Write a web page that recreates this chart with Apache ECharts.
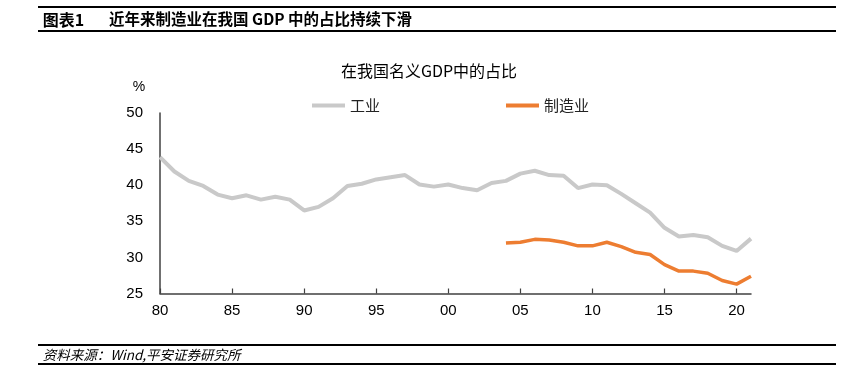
<!DOCTYPE html>
<html>
<head>
<meta charset="utf-8">
<script src="https://cdn.jsdelivr.net/npm/echarts@6/dist/echarts.min.js"></script>
<style>
html,body{margin:0;padding:0;background:#fff;}
#chart{width:851px;height:391px;}
</style>
</head>
<body>
<div id="chart"></div>
<script>
// Years 1980-2021
var years = [];
for (var y = 1980; y <= 2021; y++) years.push(String(y));

// 工业 share of nominal GDP (%)
var industry = [43.9, 41.9, 40.6, 39.9, 38.7, 38.2, 38.6, 38.0, 38.4, 38.0,
                36.5, 37.0, 38.2, 39.9, 40.2, 40.8, 41.1, 41.4, 40.1, 39.8,
                40.1, 39.6, 39.3, 40.3, 40.6, 41.6, 42.0, 41.4, 41.3, 39.6,
                40.1, 40.0, 38.8, 37.5, 36.2, 34.1, 32.9, 33.1, 32.8, 31.6,
                30.9, 32.6];

// 制造业 share of nominal GDP (%), available from 2004
var manufacturing = [null, null, null, null, null, null, null, null, null, null,
                     null, null, null, null, null, null, null, null, null, null,
                     null, null, null, null, 32.0, 32.1, 32.5, 32.4, 32.1, 31.6,
                     31.6, 32.1, 31.5, 30.7, 30.4, 29.0, 28.1, 28.1, 27.8, 26.8,
                     26.3, 27.4];

var yTicks = {min: 25, max: 50, interval: 5};

var FONT = '"Liberation Sans", "Noto Sans CJK SC", sans-serif';
var CJK = '"Noto Sans CJK SC", "Liberation Sans", sans-serif';

var chart = echarts.init(document.getElementById('chart'), null, {renderer: 'canvas'});
chart.setOption({
  animation: false,
  backgroundColor: '#fff',
  grid: {left: 160, right: 100, top: 113, bottom: 97.5, containLabel: false},
  legend: [
    {data: ['工业'], left: 307, top: 93, icon: 'rect', itemWidth: 33, itemHeight: 4,
     textStyle: {fontFamily: CJK, fontSize: 15, color: '#222'}},
    {data: ['制造业'], left: 501, top: 93, icon: 'rect', itemWidth: 33, itemHeight: 4,
     textStyle: {fontFamily: CJK, fontSize: 15, color: '#222'}}
  ],
  xAxis: {
    type: 'category',
    data: years,
    boundaryGap: false,
    axisLine: {lineStyle: {color: '#404040', width: 1.5}},
    axisTick: {inside: true, length: 5, interval: 4, lineStyle: {color: '#404040', width: 1.2}},
    axisLabel: {interval: 4, margin: 10, fontFamily: FONT, fontSize: 15, color: '#000',
      formatter: function (v) { return v.slice(2); }},
    splitLine: {show: false}
  },
  yAxis: {
    type: 'value',
    min: yTicks.min, max: yTicks.max, interval: yTicks.interval,
    axisLine: {show: true, lineStyle: {color: '#404040', width: 1.5}},
    axisTick: {show: false},
    axisLabel: {margin: 17, fontFamily: FONT, fontSize: 15, color: '#000'},
    splitLine: {show: false}
  },
  series: [
    {name: '工业', type: 'line', data: industry, symbol: 'none', smooth: false,
     lineStyle: {color: '#C9C9C9', width: 4}, itemStyle: {color: '#C9C9C9'}},
    {name: '制造业', type: 'line', data: manufacturing, symbol: 'none', smooth: false,
     lineStyle: {color: '#ED7D31', width: 3.5}, itemStyle: {color: '#ED7D31'}}
  ],
  graphic: [
    {type: 'line', shape: {x1: 38, y1: 7, x2: 836, y2: 7}, style: {stroke: '#000', lineWidth: 2}},
    {type: 'line', shape: {x1: 38, y1: 31, x2: 836, y2: 31}, style: {stroke: '#000', lineWidth: 2}},
    {type: 'text', x: 42.7, y: 19.5, style: {text: '图表1', fontFamily: CJK, fontWeight: 'bold', fontSize: 16, fill: '#000', textVerticalAlign: 'middle'}},
    {type: 'text', x: 109, y: 19.5, style: {text: '近年来制造业在我国 GDP 中的占比持续下滑', fontFamily: CJK, fontWeight: 'bold', fontSize: 15.5, fill: '#000', textVerticalAlign: 'middle'}},
    {type: 'text', x: 429, y: 70.5, style: {text: '在我国名义GDP中的占比', fontFamily: CJK, fontSize: 16, fill: '#000', textAlign: 'center', textVerticalAlign: 'middle'}},
    {type: 'text', x: 139, y: 87, style: {text: '%', fontFamily: FONT, fontSize: 14, fill: '#000', textAlign: 'center', textVerticalAlign: 'middle'}},
    {type: 'line', shape: {x1: 38, y1: 345, x2: 836, y2: 345}, style: {stroke: '#000', lineWidth: 2}},
    {type: 'line', shape: {x1: 38, y1: 364, x2: 836, y2: 364}, style: {stroke: '#000', lineWidth: 2}},
    {type: 'text', x: 42.7, y: 355, style: {text: '资料来源：Wind,平安证券研究所', fontFamily: CJK, fontStyle: 'italic', fontSize: 13.5, fill: '#000', textVerticalAlign: 'middle'}}
  ]
});
</script>
</body>
</html>
